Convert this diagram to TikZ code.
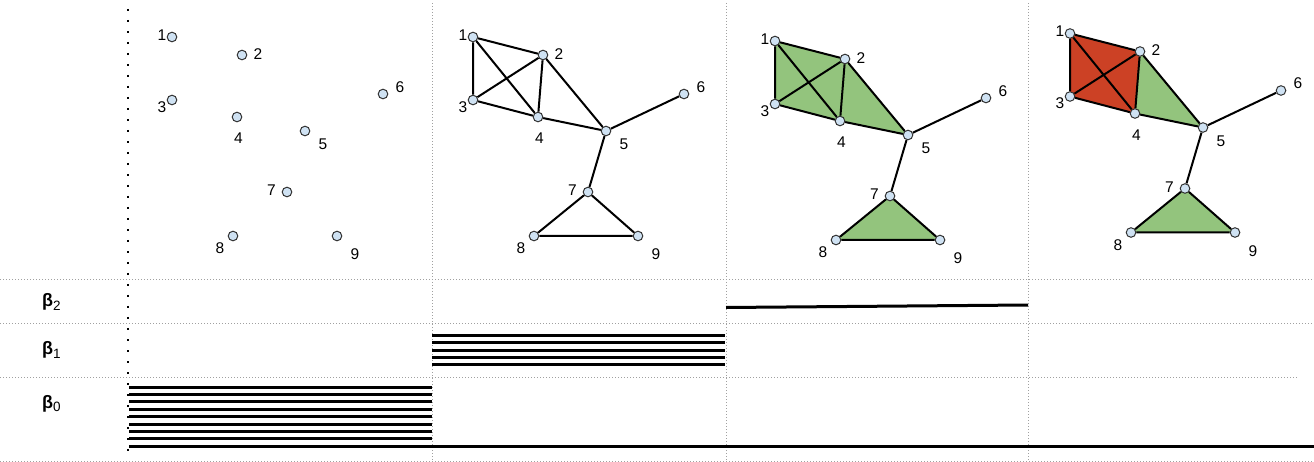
\documentclass[tikz,border=0pt]{standalone}
\usepackage{fontspec}
\setmainfont{Liberation Sans}
\pgfdeclarelayer{background}
\pgfsetlayers{background,main}
\definecolor{vfill}{HTML}{CFE2F3}
\definecolor{vline}{HTML}{333333}
\definecolor{gfillc}{HTML}{93C47D}
\definecolor{rfillc}{HTML}{CC4125}
\definecolor{gridc}{HTML}{A0A0A0}
\tikzset{
  vtx/.style={circle,minimum size=9.6pt,inner sep=0pt,fill=vfill,draw=vline,line width=1pt},
  num/.style={inner sep=0pt,font=\fontsize{15.5}{18}\selectfont},
  edge/.style={line width=2pt,black},
  gfill/.style={fill=gfillc},
  rfill/.style={fill=rfillc},
  gridline/.style={gridc,line width=0.9pt,dash pattern=on 1pt off 2pt},
  blackdots/.style={black,line width=2.4pt,dash pattern=on 2.4pt off 8.6pt},
  bar/.style={black,line width=3pt},
  betalab/.style={inner sep=0pt,anchor=base west,font=\fontsize{18}{20}\selectfont}
}
\newcommand\vertset[1]{%
 \node[vtx] (#1-1) at (172,37) {};
 \node[vtx] (#1-2) at (242,55) {};
 \node[vtx] (#1-3) at (172,100) {};
 \node[vtx] (#1-4) at (237,117) {};
 \node[vtx] (#1-5) at (305,131) {};
 \node[vtx] (#1-6) at (383,94) {};
 \node[vtx] (#1-7) at (287,192) {};
 \node[vtx] (#1-8) at (233,236) {};
 \node[vtx] (#1-9) at (337,236) {};
 \node[num] (#1-l1) at (162,35) {1};
 \node[num] (#1-l2) at (258,54) {2};
 \node[num] (#1-l3) at (162,107) {3};
 \node[num] (#1-l4) at (238.5,138.5) {4};
 \node[num] (#1-l5) at (323,144.5) {5};
 \node[num] (#1-l6) at (400,87) {6};
 \node[num] (#1-l7) at (271.5,190.5) {7};
 \node[num] (#1-l8) at (220,248.5) {8};
 \node[num] (#1-l9) at (355,254.5) {9};
}
\newcommand\edgeset[1]{%
 \draw[edge] (#1-1)--(#1-2) (#1-1)--(#1-3) (#1-1)--(#1-4) (#1-2)--(#1-3)
   (#1-2)--(#1-4) (#1-3)--(#1-4) (#1-2)--(#1-5) (#1-4)--(#1-5) (#1-5)--(#1-6)
   (#1-5)--(#1-7) (#1-7)--(#1-8) (#1-7)--(#1-9) (#1-8)--(#1-9);
}
\newcommand\betasym[1]{\textbf{β}\raisebox{-3.6pt}{\fontsize{13.5}{13.5}\selectfont #1}}
\begin{document}
\begin{tikzpicture}[x=1pt,y=-1pt]
\useasboundingbox (0,0) rectangle (1314,462);
% panels
\begin{scope}\vertset{A}\end{scope}
\begin{scope}[shift={(301,0)}]\vertset{B}\end{scope}
\begin{scope}[shift={(603,4)}]\vertset{C}\end{scope}
\begin{scope}[shift={(898,-3.5)}]\vertset{D}\end{scope}
\edgeset{B}
\edgeset{C}
\edgeset{D}
\begin{pgfonlayer}{background}
 % grid
 \draw[gridline] (0,279.5) -- (1314,279.5);
 \draw[gridline] (0,323.5) -- (1314,323.5);
 \draw[gridline] (0,377.5) -- (1298,377.5);
 \draw[gridline] (0,461) -- (1314,461);
 \draw[gridline] (432,3) -- (432,462);
 \draw[gridline] (726,3) -- (726,462);
 \draw[gridline] (1028,3) -- (1028,462);
 % fills
 \fill[gfill] (C-1.center)--(C-2.center)--(C-5.center)--(C-4.center)--(C-3.center)--cycle;
 \fill[gfill] (C-7.center)--(C-8.center)--(C-9.center)--cycle;
 \fill[rfill] (D-1.center)--(D-2.center)--(D-4.center)--(D-3.center)--cycle;
 \fill[gfill] (D-2.center)--(D-5.center)--(D-4.center)--cycle;
 \fill[gfill] (D-7.center)--(D-8.center)--(D-9.center)--cycle;
\end{pgfonlayer}
\draw[blackdots] (128,9) -- (128,456);
% barcode
\foreach \yy in {387,394.4,401.8,409.2,416.6,424,431.4,438.8} \draw[bar] (129,\yy) -- (432,\yy);
\draw[bar] (129,446.2) -- (1314,446.2);
\foreach \yy in {335.3,342.7,350.1,357.5,364.9} \draw[bar] (432,\yy) -- (725,\yy);
\draw[bar] (726,307.5) -- (1028,305);
% labels
\node[betalab] (b2) at (42,306.4) {\betasym{2}};
\node[betalab] (b1) at (42,354.7) {\betasym{1}};
\node[betalab] (b0) at (42,408) {\betasym{0}};
\end{tikzpicture}
\end{document}
